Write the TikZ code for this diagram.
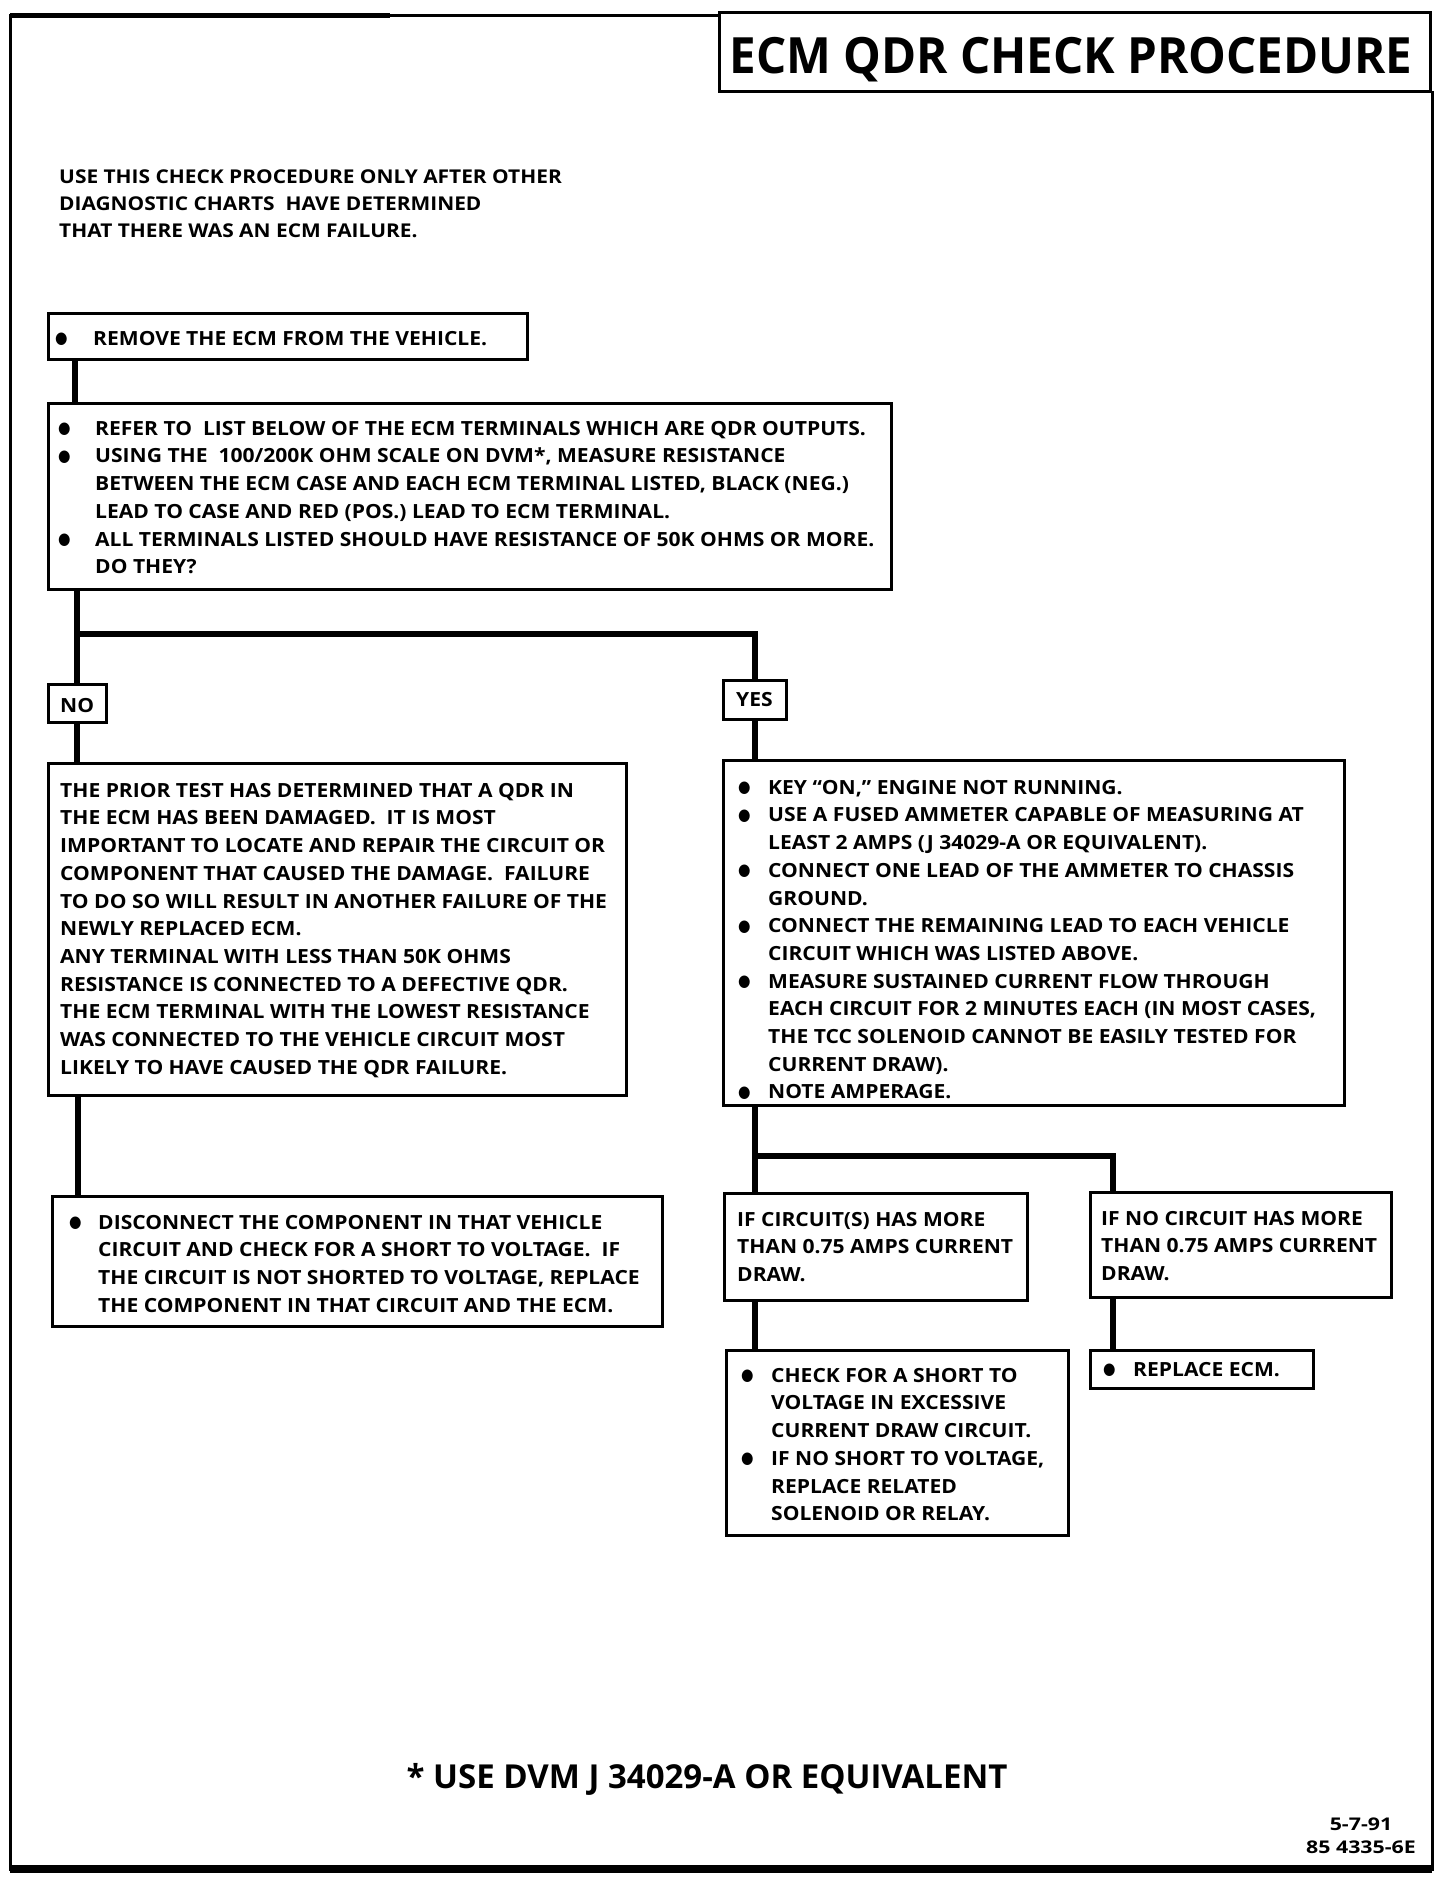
\documentclass[tikz,border=0pt]{standalone}
\usepackage{fontspec}
\setmainfont{Open Sans}
\newfontfamily\bodyfam{Open Sans}[FakeStretch=1.08]
\newfontfamily\introfam{Open Sans}[FakeStretch=1.1]
\newfontfamily\titlefam{Open Sans}[FakeStretch=0.95]
\newfontfamily\datefam{Open Sans}[FakeStretch=1.22]
\newfontfamily\dejavu{DejaVu Sans}
\usetikzlibrary{fit,calc}
\newcommand{\bodyfont}{\bodyfam\bfseries\fontsize{19.5}{27.7}\selectfont}
\newcommand{\fs}{\rule{0pt}{20pt}}
\newcommand{\bul}[1]{\makebox[#1][l]{\hspace*{1pt}\raisebox{1.5pt}{\resizebox{12.5pt}{10.5pt}{\dejavu ●}}}}
\newcommand{\ind}[1]{\hspace*{#1}}
\begin{document}
\begin{tikzpicture}[x=1pt,y=-1pt,
  box/.style={draw, line width=3pt, inner sep=0pt},
  conn/.style={line width=6pt},
  txt/.style={anchor=north west, inner sep=0pt, align=left, font=\bodyfont}]
\useasboundingbox (0,0) rectangle (1456,1888);
% outer frame
\draw[line width=3pt] (719,15) -- (10,15) -- (10,1869) -- (1432,1869) -- (1432,91);
\draw[line width=8pt] (10,1869) -- (1432,1869);
\draw[line width=5pt] (10,15) -- (390,15);
% title
\node[box, fit={(719,12) (1430,91)}] (title) {};
\node[font=\titlefam\bfseries\fontsize{50}{50}\selectfont, anchor=base] (titletext) at (1071,73) {ECM QDR CHECK PROCEDURE};
% intro
\node[txt, font=\introfam\bfseries\fontsize{19}{27}\selectfont] (intro) at (59,163) {\fs USE THIS CHECK PROCEDURE ONLY AFTER OTHER\\DIAGNOSTIC CHARTS\ \ HAVE DETERMINED\\THAT THERE WAS AN ECM FAILURE.};
% box 1
\node[box, fit={(48,313) (527,359)}] (b1) {};
\node[txt] (b1t) at (54,325) {\fs\bul{39pt}REMOVE THE ECM FROM THE VEHICLE.};
% box 2
\node[box, fit={(48,403) (891,589)}] (b2) {};
\node[txt] (b2t) at (57,415) {\fs\bul{38pt}REFER TO\ \ LIST BELOW OF THE ECM TERMINALS WHICH ARE QDR OUTPUTS.\\
\bul{38pt}USING THE\ \ 100/200K OHM SCALE ON DVM*, MEASURE RESISTANCE\\
\ind{38pt}BETWEEN THE ECM CASE AND EACH ECM TERMINAL LISTED, BLACK (NEG.)\\
\ind{38pt}LEAD TO CASE AND RED (POS.) LEAD TO ECM TERMINAL.\\
\bul{38pt}ALL TERMINALS LISTED SHOULD HAVE RESISTANCE OF 50K OHMS OR MORE.\\
\ind{38pt}DO THEY?};
% NO / YES
\node[box, fit={(48,684) (106,722)}] (no) {};
\node[txt] (not) at (60,692) {\fs NO};
\node[box, fit={(723,680) (786,719)}] (yes) {};
\node[txt] (yest) at (736,686) {\fs YES};
% prior box
\node[box, fit={(48,763) (626,1095)}] (prior) {};
\node[txt] (priort) at (60,777) {\fs THE PRIOR TEST HAS DETERMINED THAT A QDR IN\\
THE ECM HAS BEEN DAMAGED.\ \ IT IS MOST\\
IMPORTANT TO LOCATE AND REPAIR THE CIRCUIT OR\\
COMPONENT THAT CAUSED THE DAMAGE.\ \ FAILURE\\
TO DO SO WILL RESULT IN ANOTHER FAILURE OF THE\\
NEWLY REPLACED ECM.\\
ANY TERMINAL WITH LESS THAN 50K OHMS\\
RESISTANCE IS CONNECTED TO A DEFECTIVE QDR.\\
THE ECM TERMINAL WITH THE LOWEST RESISTANCE\\
WAS CONNECTED TO THE VEHICLE CIRCUIT MOST\\
LIKELY TO HAVE CAUSED THE QDR FAILURE.};
% disconnect box
\node[box, fit={(52,1196) (662,1326)}] (disc) {};
\node[txt] (disct) at (68,1209) {\fs\bul{30pt}DISCONNECT THE COMPONENT IN THAT VEHICLE\\
\ind{30pt}CIRCUIT AND CHECK FOR A SHORT TO VOLTAGE.\ \ IF\\
\ind{30pt}THE CIRCUIT IS NOT SHORTED TO VOLTAGE, REPLACE\\
\ind{30pt}THE COMPONENT IN THAT CIRCUIT AND THE ECM.};
% yes branch box
\node[box, fit={(723,760) (1344,1105)}] (ybox) {};
\node[txt] (yboxt) at (737,774) {\fs\bul{31pt}KEY “ON,” ENGINE NOT RUNNING.\\
\bul{31pt}USE A FUSED AMMETER CAPABLE OF MEASURING AT\\
\ind{31pt}LEAST 2 AMPS (J 34029-A OR EQUIVALENT).\\
\bul{31pt}CONNECT ONE LEAD OF THE AMMETER TO CHASSIS\\
\ind{31pt}GROUND.\\
\bul{31pt}CONNECT THE REMAINING LEAD TO EACH VEHICLE\\
\ind{31pt}CIRCUIT WHICH WAS LISTED ABOVE.\\
\bul{31pt}MEASURE SUSTAINED CURRENT FLOW THROUGH\\
\ind{31pt}EACH CIRCUIT FOR 2 MINUTES EACH (IN MOST CASES,\\
\ind{31pt}THE TCC SOLENOID CANNOT BE EASILY TESTED FOR\\
\ind{31pt}CURRENT DRAW).\\
\bul{31pt}NOTE AMPERAGE.};
% sub boxes
\node[box, fit={(724,1193) (1027,1300)}] (subl) {};
\node[txt] (sublt) at (737,1206) {\fs IF CIRCUIT(S) HAS MORE\\THAN 0.75 AMPS CURRENT\\DRAW.};
\node[box, fit={(1090,1192) (1391,1297)}] (subr) {};
\node[txt] (subrt) at (1101,1205) {\fs IF NO CIRCUIT HAS MORE\\THAN 0.75 AMPS CURRENT\\DRAW.};
\node[box, fit={(726,1350) (1068,1535)}] (check) {};
\node[txt] (checkt) at (740,1362) {\fs\bul{31pt}CHECK FOR A SHORT TO\\
\ind{31pt}VOLTAGE IN EXCESSIVE\\
\ind{31pt}CURRENT DRAW CIRCUIT.\\
\bul{31pt}IF NO SHORT TO VOLTAGE,\\
\ind{31pt}REPLACE RELATED\\
\ind{31pt}SOLENOID OR RELAY.};
\node[box, fit={(1090,1350) (1313,1388)}] (repl) {};
\node[txt] (replt) at (1102,1356) {\fs\bul{31pt}REPLACE ECM.};
% footer
\node[font=\bfseries\fontsize{33}{33}\selectfont, anchor=base] (foot) at (707,1788) {* USE DVM J 34029-A OR EQUIVALENT};
\node[font=\datefam\bfseries\fontsize{17.5}{23}\selectfont, anchor=north, align=center, inner sep=0pt] (date) at (1361,1810) {\fs 5-7-91\\85 4335-6E};
% connectors
\coordinate (j1) at ($(no.north |- b2.south)+(0,43)$);
\coordinate (j2) at ($(yes.south |- ybox.south)+(0,49)$);
\draw[conn] ([xshift=28pt]b1.south west) -- ([xshift=28pt]b2.north west);
\draw[conn] (no.north |- b2.south) -- (no.north);
\draw[conn] (j1) -| (yes.north);
\draw[conn] (no.south) -- (no.south |- prior.north);
\draw[conn] (yes.south) -- (yes.south |- ybox.north);
\draw[conn] ([xshift=31.5pt]prior.south west) -- ([xshift=27.5pt]disc.north west);
\draw[conn] (yes.south |- ybox.south) -- (yes.south |- subl.north);
\draw[conn] (j2) -| ([xshift=24pt]subr.north west);
\draw[conn] (yes.south |- subl.south) -- (yes.south |- check.north);
\draw[conn] ([xshift=24pt]subr.south west) -- ([xshift=24pt]repl.north west);
\end{tikzpicture}
\end{document}
